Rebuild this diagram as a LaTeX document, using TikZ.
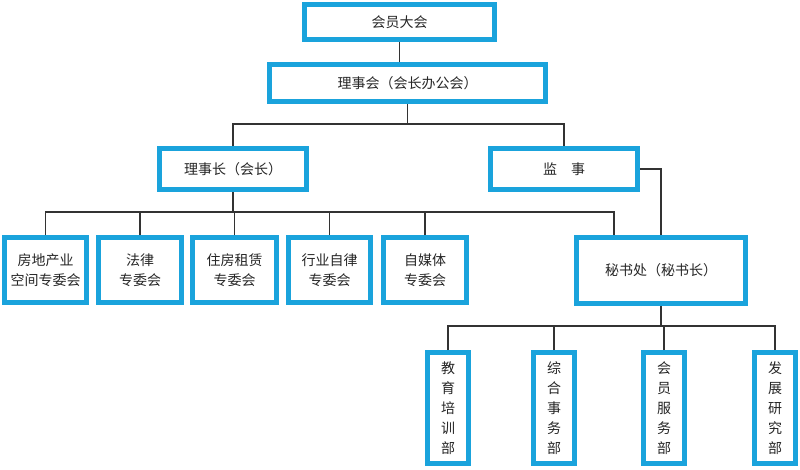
\documentclass[tikz,border=0pt]{standalone}
\usepackage{fontspec}
\setmainfont{Noto Sans CJK SC}
\begin{document}
\begin{tikzpicture}[x=1pt,y=-1pt,
  box/.style={draw=bx,line width=5pt,fill=white,inner sep=0pt,align=center,font=\fontsize{14}{20}\selectfont,text=black!85},
  ln/.style={line width=1.6pt,draw=black!80}]
\definecolor{bx}{HTML}{1AA3DC}
\useasboundingbox (0,0) rectangle (800,469);
\newcommand\bx[6]{\node[box,minimum width={#3-#2-5pt},minimum height={#5-#4-5pt}] (#1) at ({(#2+#3)/2},{(#4+#5)/2}) {#6};}
\bx{a}{302}{497}{2}{42}{会员大会}
\bx{b}{267}{548}{62}{104}{理事会（会长办公会）}
\bx{c}{157}{309}{146}{192}{理事长（会长）}
\bx{d}{488}{640}{146}{192}{监\quad 事}
\bx{e1}{2}{89}{235}{305}{房地产业\\空间专委会}
\bx{e2}{96}{184}{235}{305}{法律\\专委会}
\bx{e3}{190}{279}{235}{305}{住房租赁\\专委会}
\bx{e4}{286}{373}{235}{305}{行业自律\\专委会}
\bx{e5}{381}{469}{235}{305}{自媒体\\专委会}
\bx{s}{574}{748}{235}{306}{秘书处（秘书长）}
\bx{f1}{425}{471}{350}{466}{教\\育\\培\\训\\部}
\bx{f2}{531}{577}{350}{466}{综\\合\\事\\务\\部}
\bx{f3}{641}{687}{350}{466}{会\\员\\服\\务\\部}
\bx{f4}{752}{798}{350}{466}{发\\展\\研\\究\\部}
\coordinate (j1) at (407.5,124);
\coordinate (j2) at (233,212);
\coordinate (j3) at (661,326);
\coordinate (jd) at (661,169);
\draw[ln] (a.south) -- (a.south |- b.north);
\draw[ln] (b.south) -- (j1);
\draw[ln] (c.north) |- (j1) -| (d.north);
\draw[ln] (c.south) -- (j2);
\foreach \n in {e1,e2,e3,e4,e5}{\draw[ln] (\n.north) |- (j2);}
\draw[ln] (j2) -| ([xshift=-47pt]s.north);
\draw[ln] (d.east) -- (jd) -- (s.north);
\draw[ln] (s.south) -- (j3);
\foreach \n in {f1,f2,f3,f4}{\draw[ln] (\n.north) |- (j3);}
\end{tikzpicture}
\end{document}
